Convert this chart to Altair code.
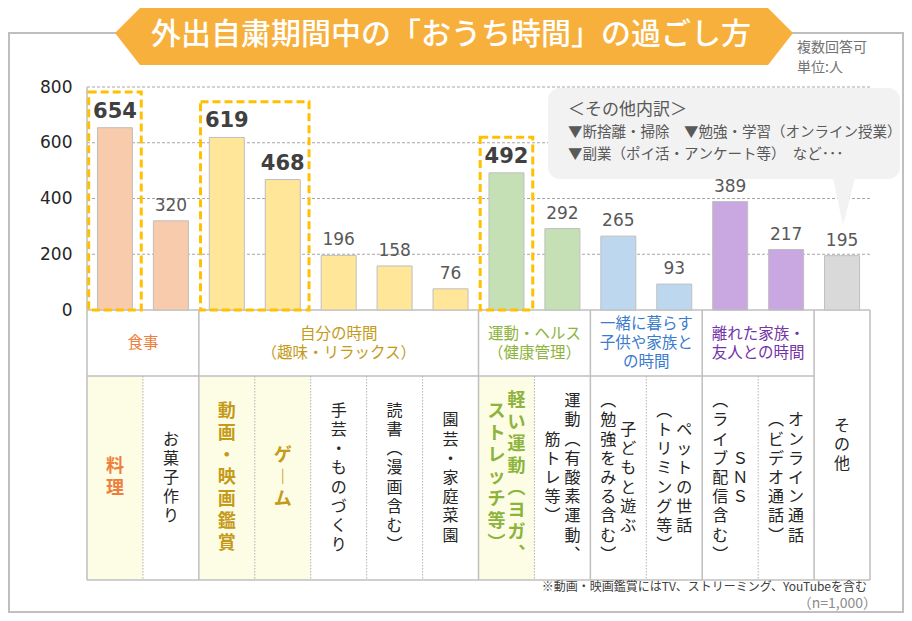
import altair as alt
import pandas as pd

# ---------------- data ----------------
title_text = "外出自粛期間中の「おうち時間」の過ごし方"
unit_notes = ["複数回答可", "単位:人"]
group_headers = [["食事"], ["自分の時間", "（趣味・リラックス）"], ["運動・ヘルス", "（健康管理）"],
                 ["一緒に暮らす", "子供や家族と", "の時間"], ["離れた家族・", "友人との時間"], []]
group_sizes = [2, 5, 2, 2, 2, 1]
bar_colors = ["#F8CBAD", "#FFE699", "#C5E0B4", "#BDD7EE", "#C9A7E1", "#D9D9D9"]
group_text_colors = ["#EE7E3C", "#C49A18", "#8CB43C", "#3A7BCB", "#7434A6", "#262626"]
items = ["料理", "お菓子作り", "動画・映画鑑賞", "ゲーム", "手芸・ものづくり", "読書（漫画含む）",
         "園芸・家庭菜園", "軽い運動（ヨガ、ストレッチ等）", "運動（有酸素運動、筋トレ等）",
         "子どもと遊ぶ（勉強をみる含む）", "ペットの世話（トリミング等）", "ＳＮＳ（ライブ配信含む）",
         "オンライン通話（ビデオ通話）", "その他"]
item_label_columns = [["料理"], ["お菓子作り"], ["動画・映画鑑賞"], ["ゲーム"], ["手芸・ものづくり"],
                      ["読書（漫画含む）"], ["園芸・家庭菜園"], ["軽い運動（ヨガ、", "ストレッチ等）"],
                      ["運動（有酸素運動、", "筋トレ等）"], ["子どもと遊ぶ", "（勉強をみる含む）"],
                      ["ペットの世話", "（トリミング等）"], ["ＳＮＳ", "（ライブ配信含む）"],
                      ["オンライン通話", "（ビデオ通話）"], ["その他"]]
values = [654, 320, 619, 468, 196, 158, 76, 492, 292, 265, 93, 389, 217, 195]
highlight_groups = [["料理"], ["動画・映画鑑賞", "ゲーム"], ["軽い運動（ヨガ、ストレッチ等）"]]
other_breakdown = ["＜その他内訳＞", "▼断捨離・掃除　▼勉強・学習（オンライン授業）",
                   "▼副業（ポイ活・アンケート等）　など･･･"]
footnote = "※動画・映画鑑賞にはTV、ストリーミング、YouTubeを含む"
sample_note = "（n=1,000）"
y_ticks = [0, 200, 400, 600, 800]

# ---------------- layout ----------------
W, H = 783, 223
N = len(items)
UNIT = W / N
OX, OY = 87, 87


def px(x):
    return x - OX


def py(y):
    return y - OY


HEAD_BOT, TAB_BOT = py(376), py(580)
JP = "Noto Sans CJK JP"
NUM = "DejaVu Sans"
GRAY = "#BFBFBF"

xs = alt.Scale(domain=[0, N], nice=False, zero=False)
ys = alt.Scale(domain=[0, 800], nice=False)
yaxis = alt.Axis(values=y_ticks, grid=False, domain=False, ticks=False, labelFontSize=17,
                 labelFont=NUM, labelColor="#262626", labelPadding=15, title=None, zindex=3)

item_group = [g for g, n in enumerate(group_sizes) for _ in range(n)]
group_start = [sum(group_sizes[:g]) for g in range(len(group_sizes))]
highlighted = [name for grp in highlight_groups for name in grp]

VERT = {"（": "︵", "）": "︶", "、": "︑", "ー": "︱"}


def X(f, **kw):
    return alt.X(f, type="quantitative", scale=xs, axis=None, **kw)


def Yv(f):
    return alt.Y(f, type="quantitative", scale=ys, axis=yaxis)


def PX(f):
    return alt.X(f, type="quantitative", scale=None, axis=None)


def PY(f):
    return alt.Y(f, type="quantitative", scale=None, axis=None)


one = pd.DataFrame({"a": [0]})
layers = []

# outer frame
layers.append(alt.Chart(one).mark_rect(fill="white", stroke=GRAY, strokeWidth=2).encode(
    x=alt.value(px(9)), x2=alt.value(px(903)), y=alt.value(py(33)), y2=alt.value(py(612))))

# title banner
banner = pd.DataFrame({"bx": [px(115), px(140), px(768), px(793)],
                       "bt": [py(33), py(8), py(8), py(33)],
                       "bb": [py(33), py(65), py(65), py(33)]})
layers.append(alt.Chart(banner).mark_area(color="#F8B03D", interpolate="linear").encode(
    x=PX("bx"), y=PY("bt"), y2="bb"))
layers.append(alt.Chart(pd.DataFrame({"t": [title_text]})).mark_text(
    font=JP, fontSize=30, fontWeight=500, color="white", align="center", baseline="middle").encode(
    text="t:N", x=alt.value(px(451)), y=alt.value(py(35))))

un = pd.DataFrame({"t": unit_notes, "yy": [py(48), py(68)]})
layers.append(alt.Chart(un).mark_text(font=JP, fontSize=14, color="#737373", align="left",
                                      baseline="middle").encode(
    text="t:N", x=alt.value(px(797)), y=PY("yy")))

# grid lines
grid = pd.DataFrame({"v": y_ticks[1:]})
layers.append(alt.Chart(grid).mark_rule(color="#A6A6A6", strokeWidth=1, strokeDash=[3, 2]).encode(
    y=Yv("v:Q"), x=alt.value(0), x2=alt.value(W)))

# table cell backgrounds for highlighted items
hl_df = pd.DataFrame({"a": [items.index(n) for n in highlighted],
                      "b": [items.index(n) + 1 for n in highlighted]})
layers.append(alt.Chart(hl_df).mark_rect(fill="#FDFDE6").encode(
    x=X("a:Q"), x2="b", y=alt.value(HEAD_BOT), y2=alt.value(TAB_BOT)))

# table lines
hl = pd.DataFrame({"a": [0, 0, 0], "b": [N, group_start[-1], N], "yy": [H, HEAD_BOT, TAB_BOT]})
layers.append(alt.Chart(hl).mark_rule(color=GRAY, strokeWidth=1.5).encode(
    x=X("a:Q"), x2="b", y=PY("yy")))
solid_x = [0] + [group_start[g] for g in range(1, len(group_sizes))] + [N]
solid = pd.DataFrame({"xb": solid_x, "ya": [0] + [H] * (len(solid_x) - 1),
                      "yb": [TAB_BOT] * len(solid_x)})
layers.append(alt.Chart(solid).mark_rule(color=GRAY, strokeWidth=1.5).encode(
    x=X("xb:Q"), y=PY("ya"), y2="yb"))
dotted_x = [i for i in range(1, N) if i not in solid_x]
dotted = pd.DataFrame({"xb": dotted_x, "ya": [HEAD_BOT] * len(dotted_x), "yb": [TAB_BOT] * len(dotted_x)})
layers.append(alt.Chart(dotted).mark_rule(color="#B0B0B0", strokeWidth=1, strokeDash=[1.5, 1.5]).encode(
    x=X("xb:Q"), y=PY("ya"), y2="yb"))

# bars
BAR_HALF = 17.5 / UNIT
bars = pd.DataFrame({
    "item": items, "value": values, "zero": [0] * N,
    "x0": [i + 0.5 - BAR_HALF for i in range(N)],
    "x1": [i + 0.5 + BAR_HALF for i in range(N)],
    "xc": [i + 0.5 for i in range(N)],
    "fill": [bar_colors[g] for g in item_group],
    "hl": [n in highlighted for n in items],
})
layers.append(alt.Chart(bars).mark_rect(stroke=GRAY, strokeWidth=1).encode(
    x=X("x0:Q"), x2="x1", y=Yv("value:Q"), y2="zero",
    color=alt.Color("fill:N", scale=None)))

# highlight boxes
boxes = pd.DataFrame({
    "a": [items.index(g[0]) + 0.03 for g in highlight_groups],
    "b": [items.index(g[-1]) + 1 - 0.03 for g in highlight_groups],
    "value": [max(values[items.index(n)] for n in g) + 128 for g in highlight_groups],
    "zero": [0] * len(highlight_groups)})
layers.append(alt.Chart(boxes).mark_rect(fillOpacity=0, stroke="#FFC000", strokeWidth=3,
                                         strokeDash=[8, 4]).encode(
    x=X("a:Q"), x2="b", y=Yv("value:Q"), y2="zero"))

# value labels
layers.append(alt.Chart(bars[~bars.hl]).mark_text(font=NUM, fontSize=17, color="#595959",
                                                  baseline="alphabetic", dy=-10).encode(
    x=X("xc:Q"), y=Yv("value:Q"), text="value:Q"))
layers.append(alt.Chart(bars[bars.hl]).mark_text(font=NUM, fontSize=21, fontWeight="bold",
                                                 color="#404040", baseline="alphabetic", dy=-10).encode(
    x=X("xc:Q"), y=Yv("value:Q"), text="value:Q"))

# group headers: one text per line
HLH = 19
hrows = []
for g in range(len(group_sizes)):
    lines = group_headers[g]
    for k, line in enumerate(lines):
        hrows.append({"xc": group_start[g] + group_sizes[g] / 2, "t": line, "c": group_text_colors[g],
                      "yy": py(343) + (k - (len(lines) - 1) / 2) * HLH})
hd = pd.DataFrame(hrows)
layers.append(alt.Chart(hd).mark_text(font=JP, fontSize=15.5, baseline="middle", align="center").encode(
    x=X("xc:Q"), y=PY("yy"), text="t:N", color=alt.Color("c:N", scale=None)))

# vertical item labels: one text per character, top-to-bottom, columns right-to-left
LH_N, LH_B = 19.2, 22
rows = []
for i, cols in enumerate(item_label_columns):
    g = item_group[i]
    is_hl = items[i] in highlighted
    lh = LH_B if is_hl else LH_N
    center = py(478) if group_headers[g] else py(445)
    offs = [0] if len(cols) == 1 else [10, -10]
    for col, off in zip(cols, offs):
        for k, ch in enumerate(col):
            rows.append({"xc": i + 0.5 + off / UNIT, "t": VERT.get(ch, ch),
                         "yy": center + (k - (len(col) - 1) / 2) * lh,
                         "hl": is_hl,
                         "c": group_text_colors[g] if is_hl else "#262626"})
vl = pd.DataFrame(rows)
layers.append(alt.Chart(vl[~vl.hl]).mark_text(font=JP, fontSize=16, baseline="middle", align="center").encode(
    x=X("xc:Q"), y=PY("yy"), text="t:N", color=alt.Color("c:N", scale=None)))
layers.append(alt.Chart(vl[vl.hl]).mark_text(font=JP, fontSize=18, fontWeight="bold",
                                             baseline="middle", align="center").encode(
    x=X("xc:Q"), y=PY("yy"), text="t:N", color=alt.Color("c:N", scale=None)))

# speech bubble
layers.append(alt.Chart(one).mark_rect(fill="#F2F2F2", cornerRadius=12).encode(
    x=alt.value(px(548)), x2=alt.value(px(900)), y=alt.value(py(88)), y2=alt.value(py(179))))
tail = pd.DataFrame({"bx": [px(833), px(843), px(855)], "bt": [py(178)] * 3,
                     "bb": [py(178), py(225), py(178)]})
layers.append(alt.Chart(tail).mark_area(color="#F2F2F2", interpolate="linear").encode(
    x=PX("bx"), y=PY("bt"), y2="bb"))
bub = pd.DataFrame({"t": other_breakdown, "yy": [py(110), py(133), py(155)], "fs": [17, 14.5, 14.5]})
layers.append(alt.Chart(bub).mark_text(font=JP, color="#595959", align="left", baseline="middle").encode(
    x=alt.value(px(568)), y=PY("yy"), text="t:N", size=alt.Size("fs:Q", scale=None)))

# footnotes
fn = pd.DataFrame({"t": [footnote, sample_note], "xx": [px(867), px(877)], "yy": [py(587), py(604)],
                   "fs": [12, 14], "c": ["#404040", "#8C8C8C"]})
layers.append(alt.Chart(fn).mark_text(font=JP, align="right", baseline="middle").encode(
    x=PX("xx"), y=PY("yy"), text="t:N", size=alt.Size("fs:Q", scale=None),
    color=alt.Color("c:N", scale=None)))

chart = alt.layer(*layers).properties(
    width=W, height=H,
    padding={"left": 79, "top": 79, "right": 896 - 79 - W, "bottom": 605 - 79 - H},
    autosize=alt.AutoSizeParams(type="none"),
    background="white",
).configure_view(stroke=None)

chart.save("out.html", embed_options={"renderer": "svg", "actions": False})
